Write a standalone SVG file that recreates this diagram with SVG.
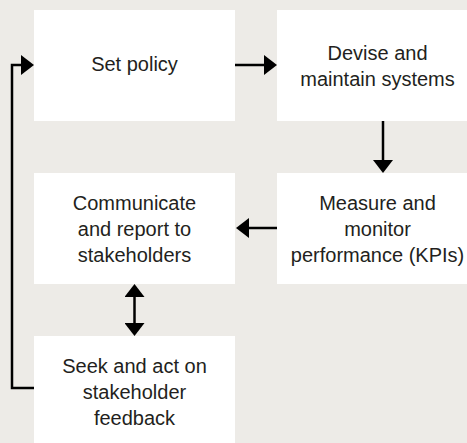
<svg xmlns="http://www.w3.org/2000/svg" width="467" height="443" viewBox="0 0 467 443">
<defs>
<style>
.box{fill:#ffffff}
.lbl{font-family:"Liberation Sans",Arial,sans-serif;font-size:20px;fill:#231f20;text-anchor:middle}
.con{fill:none;stroke:#000;stroke-width:2.5}
</style>
<marker id="ah" markerUnits="userSpaceOnUse" markerWidth="13" markerHeight="20" viewBox="0 0 13 20" refX="7" refY="10" orient="auto-start-reverse">
<path d="M0,0 L13,10 L0,20 Z" fill="#000"/>
</marker>
</defs>
<rect x="0" y="0" width="467" height="443" fill="#edebe7"/>
<g id="n-set-policy">
<rect class="box" x="34" y="10" width="201" height="111"/>
<text class="lbl" x="134.5" y="71">Set policy</text>
</g>
<g id="n-devise">
<rect class="box" x="277" y="10" width="201" height="111"/>
<text class="lbl" x="377.5" y="60">Devise and</text>
<text class="lbl" x="377.5" y="86">maintain systems</text>
</g>
<g id="n-measure">
<rect class="box" x="277" y="173" width="201" height="111"/>
<text class="lbl" x="377.5" y="210">Measure and</text>
<text class="lbl" x="377.5" y="236">monitor</text>
<text class="lbl" x="377.5" y="262">performance (KPIs)</text>
</g>
<g id="n-communicate">
<rect class="box" x="34" y="173" width="201" height="111"/>
<text class="lbl" x="134.5" y="210">Communicate</text>
<text class="lbl" x="134.5" y="236">and report to</text>
<text class="lbl" x="134.5" y="262">stakeholders</text>
</g>
<g id="n-seek">
<rect class="box" x="34" y="336" width="201" height="120"/>
<text class="lbl" x="134.5" y="373">Seek and act on</text>
<text class="lbl" x="134.5" y="399">stakeholder</text>
<text class="lbl" x="134.5" y="425">feedback</text>
</g>
<g id="connectors">
<path class="con" d="M235,65 H271" marker-end="url(#ah)"/>
<path class="con" d="M383,121 V167" marker-end="url(#ah)"/>
<path class="con" d="M277,228 H242" marker-end="url(#ah)"/>
<path class="con" d="M134.5,290 V330" marker-start="url(#ah)" marker-end="url(#ah)"/>
<path class="con" d="M34,388 H12 V65 H28" marker-end="url(#ah)"/>
</g>
</svg>
